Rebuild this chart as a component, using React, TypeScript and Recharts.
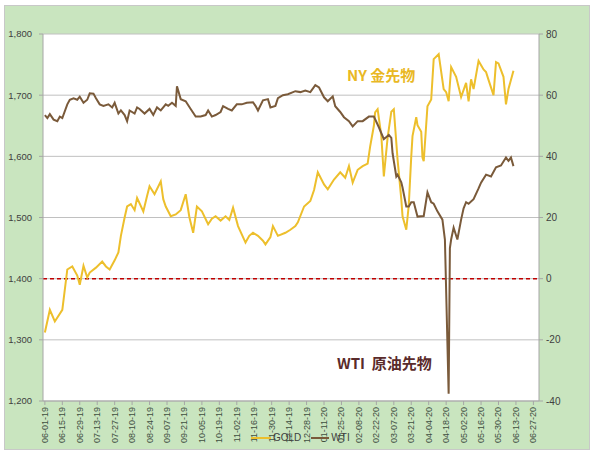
import React from 'react';
import { LineChart, Line, XAxis, YAxis, CartesianGrid, ReferenceLine } from 'recharts';

// x positions are days counted from 06-01-19
const dateLabels = [
  '06-01-19', '06-15-19', '06-29-19', '07-13-19', '07-27-19', '08-10-19', '08-24-19', '09-07-19',
  '09-21-19', '10-05-19', '10-19-19', '11-02-19', '11-16-19', '11-30-19', '12-14-19', '12-28-19',
  '01-11-20', '01-25-20', '02-08-20', '02-22-20', '03-07-20', '03-21-20', '04-04-20', '04-18-20',
  '05-02-20', '05-16-20', '05-30-20', '06-13-20', '06-27-20',
];

const goldDays = [
  0, 4, 8, 14, 18, 22, 26, 28, 31, 34, 36, 41, 46, 49, 52, 56, 59, 61, 64, 66,
  69, 72, 74, 79, 82, 84, 88, 93, 95, 97, 101, 105, 109, 113, 116, 119, 122, 126, 131, 134,
  137, 141, 145, 148, 151, 155, 161, 164, 167, 171, 175, 177, 181, 183, 187, 193, 197, 201, 203, 208,
  213, 216, 219, 224, 227, 232, 237, 241, 244, 247, 251, 255, 259, 261, 264, 265, 267, 270, 272, 275,
  278, 280, 283, 286, 287, 290, 292, 294, 295, 298, 299, 302, 303, 304, 307, 310, 312, 316, 320, 322,
  324, 326, 330, 334, 338, 340, 342, 344, 348, 352, 354, 356, 360, 362, 364, 368, 370, 372, 376,
];
const goldPrices = [
  1312, 1349, 1330, 1349, 1415, 1420, 1405, 1390, 1421, 1402, 1410, 1418, 1428, 1420, 1415, 1430, 1443, 1470, 1500, 1518,
  1522, 1512, 1532, 1510, 1535, 1551, 1538, 1559, 1530, 1518, 1502, 1505, 1512, 1538, 1500, 1475, 1518, 1510, 1489, 1498,
  1502, 1495, 1502, 1496, 1516, 1486, 1459, 1470, 1475, 1470, 1462, 1456, 1468, 1486, 1470, 1475, 1480, 1486, 1492, 1518,
  1527, 1545, 1574, 1554, 1546, 1562, 1574, 1565, 1584, 1557, 1578, 1584, 1588, 1616, 1650, 1672, 1677, 1633, 1567, 1630,
  1673, 1677, 1595, 1530, 1502, 1480, 1520, 1600, 1633, 1664, 1651, 1640, 1598, 1592, 1682, 1693, 1759, 1767, 1710, 1705,
  1690, 1746, 1730, 1697, 1720, 1690, 1726, 1710, 1756, 1742, 1738, 1725, 1700, 1754, 1752, 1730, 1685, 1710, 1740,
];

const wtiDays = [
  0, 2, 4, 7, 10, 12, 14, 18, 20, 23, 26, 28, 31, 34, 36, 39, 41, 44, 47, 51,
  54, 56, 59, 61, 64, 66, 68, 72, 74, 76, 80, 84, 87, 90, 93, 97, 99, 102, 105, 106,
  109, 113, 117, 121, 125, 129, 131, 134, 137, 141, 143, 147, 150, 154, 158, 162, 167, 169, 171, 175,
  179, 181, 185, 187, 191, 195, 201, 205, 209, 213, 217, 220, 224, 227, 231, 233, 237, 240, 244, 247,
  251, 255, 260, 264, 268, 272, 276, 278, 279, 282, 283, 286, 287, 290, 292, 294, 296, 299, 304, 307,
  310, 312, 315, 319, 321, 324, 325, 326, 328, 331, 334, 336, 338, 340, 344, 348, 350, 354, 358, 362,
  366, 370, 372, 374, 376,
];
const wtiPrices = [
  53.5, 52.5, 53.8, 52, 51.5, 53, 52.5, 57, 58.5, 59, 58.5, 59.5, 57.5, 58.5, 60.6, 60.5, 59, 57, 56.5, 57,
  56, 57.5, 54, 55, 53.5, 51.5, 55, 54, 56, 55.5, 54, 55.5, 53.5, 56, 55, 57, 56.5, 57.5, 56.5, 62.9,
  58.7, 58, 55.5, 53, 53, 53.5, 55, 53, 53.5, 54.5, 56.4, 55.5, 55, 57, 57, 57.5, 57.7, 56.5, 55, 58.3,
  58.7, 56, 56.5, 59, 60, 60.3, 61.3, 61, 61.5, 61, 63.3, 62.5, 59.3, 58, 59.6, 56.4, 54.5, 52.8, 51.5, 49.8,
  51.5, 51.5, 53, 53, 49.5, 45.6, 47, 46, 41, 33.4, 34, 31.5, 29.8, 23.6, 23.6, 25, 25, 20.3, 20.5, 28.2,
  25, 24.5, 22, 19.3, 12.8, -37.6, 10, 12.8, 16.7, 12.8, 19.3, 23, 25, 24.5, 26, 29.5, 31.4, 34, 33.4, 36.4,
  37, 39.6, 38.5, 39.6, 36.8,
];

const goldTicks = [1200, 1300, 1400, 1500, 1600, 1700, 1800];
const wtiTicks = [-40, -20, 0, 20, 40, 60, 80];

const goldData = goldDays.map((d, i) => ({ d, gold: goldPrices[i] }));
const wtiData = wtiDays.map((d, i) => ({ d, wti: wtiPrices[i] }));
const xTicks = dateLabels.map((_, i) => i * 14);

const GOLD = '#EDBF2C';
const BROWN = '#7A5A3A';
const AXIS = '#a6a6a6';
const FONT = '"Liberation Sans", Arial, sans-serif';
const JP = '"Noto Sans CJK JP", sans-serif';

const DateTick = (props: any) => {
  const { x, y, payload } = props;
  const label = dateLabels[Math.round(payload.value / 14)];
  return (
    <g transform={`translate(${x},${y})`}>
      <text transform="rotate(-90)" x={0} y={3} textAnchor="end" fontSize={9} fill="#3f4f3f" fontFamily={FONT}>
        {label}
      </text>
    </g>
  );
};

export default function App() {
  return (
    <div
      style={{
        position: 'absolute',
        left: 4,
        top: 5,
        width: 586,
        height: 445,
        background: '#c9e5bf',
        border: '1px solid #c8c8c8',
        boxSizing: 'border-box',
      }}
    >
      <LineChart width={584} height={443} margin={{ top: 28, right: 0, bottom: 0, left: 0 }}>
        <CartesianGrid yAxisId="left" vertical={false} stroke="#c0c0c0" fill="#ffffff" />
        <XAxis
          type="number"
          dataKey="d"
          domain={[-1.5, 396.5]}
          ticks={xTicks}
          tick={<DateTick />}
          height={48}
          stroke={AXIS}
          tickSize={4}
          tickMargin={2}
          interval={0}
          allowDataOverflow
        />
        <YAxis
          yAxisId="left"
          width={38}
          domain={[1200, 1800]}
          ticks={goldTicks}
          tickFormatter={(v: number) => v.toLocaleString('en-US')}
          tick={{ fontSize: 9.5, fill: '#404040', fontFamily: FONT }}
          stroke={AXIS}
          tickSize={4}
          tickMargin={7}
          allowDataOverflow
        />
        <YAxis
          yAxisId="right"
          orientation="right"
          width={50}
          domain={[-40, 80]}
          ticks={wtiTicks}
          tick={{ fontSize: 10, fill: '#404040', fontFamily: FONT, textAnchor: 'start' }}
          stroke={AXIS}
          tickSize={4}
          tickMargin={3}
          allowDataOverflow
        />
        <ReferenceLine yAxisId="left" y={1400} stroke="#c00000" strokeWidth={1.5} strokeDasharray="4 3" />
        <Line
          yAxisId="left"
          data={goldData}
          dataKey="gold"
          stroke={GOLD}
          strokeWidth={2}
          dot={false}
          type="linear"
          isAnimationActive={false}
        />
        <Line
          yAxisId="right"
          data={wtiData}
          dataKey="wti"
          stroke={BROWN}
          strokeWidth={2}
          dot={false}
          type="linear"
          isAnimationActive={false}
        />
      </LineChart>

      {/* annotations */}
      <div
        style={{
          position: 'absolute', left: 342, top: 60, fontFamily: JP, fontWeight: 700,
          fontSize: 15, lineHeight: '18px', color: '#E9B824', whiteSpace: 'nowrap',
        }}
      >
        NY 金先物
      </div>
      <div
        style={{
          position: 'absolute', left: 332, top: 348, fontFamily: JP, fontWeight: 700,
          fontSize: 15, lineHeight: '18px', color: '#5a2b2b', whiteSpace: 'nowrap',
        }}
      >
        WTI&nbsp;&nbsp;原油先物
      </div>

      {/* legend */}
      <div
        style={{
          position: 'absolute', left: 246, top: 426, display: 'flex', alignItems: 'center',
          fontFamily: FONT, fontSize: 10, color: '#404040', whiteSpace: 'nowrap',
        }}
      >
        <span style={{ display: 'inline-block', width: 20, height: 2, background: GOLD, marginRight: 2 }} />
        <span style={{ marginRight: 10 }}>GOLD</span>
        <span style={{ display: 'inline-block', width: 18, height: 2, background: BROWN, marginRight: 2 }} />
        <span>WTI</span>
      </div>
    </div>
  );
}
